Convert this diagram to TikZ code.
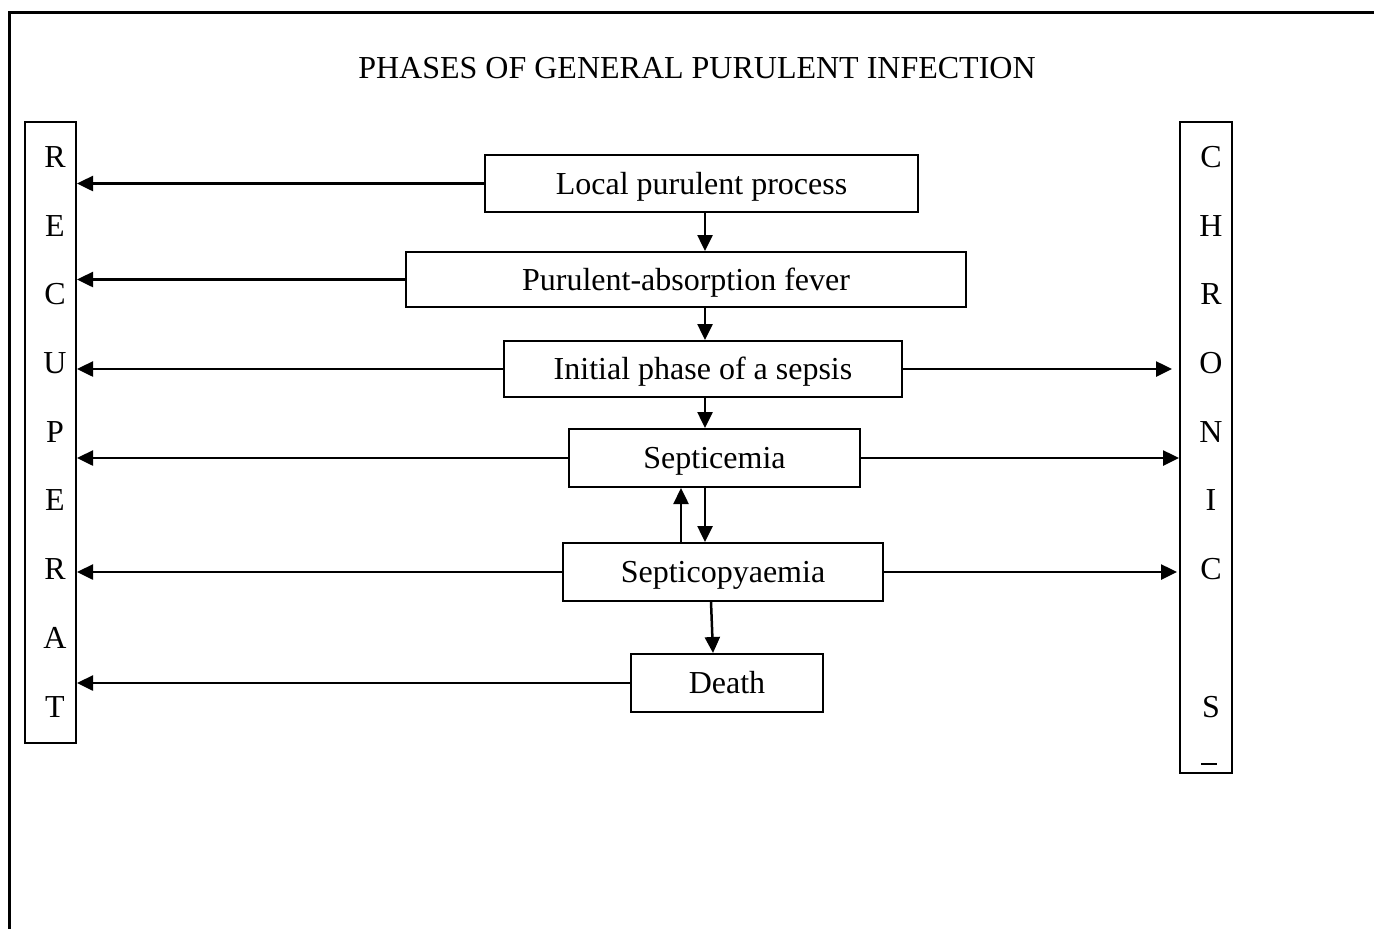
\documentclass[tikz,border=0pt]{standalone}
\usepackage{fontspec}
\setmainfont{Liberation Serif}
\usetikzlibrary{arrows.meta,positioning,calc}

\begin{document}
\begin{tikzpicture}[
  x=0.5pt, y=-0.5pt,
  phase/.style={draw, line width=1pt, inner sep=0pt, align=center, font=\fontsize{16}{19}\selectfont, text height=10.6pt, text depth=0pt},
  bar/.style={draw, line width=1pt, inner sep=0pt},
  letter/.style={inner sep=0pt, font=\fontsize{16}{19}\selectfont},
  arr/.style={-{Triangle[length=8pt, width=7.5pt]}, line width=1.25pt}
]
  \clip (0,0) rectangle (1374,928);
  % outer frame (runs off the page to the right and below)
  \draw[line width=1.5pt] (9.5,940) -- (9.5,12) -- (1390,12);

  \node[font=\fontsize{16}{19}\selectfont] (title) at (697,68) {PHASES OF GENERAL PURULENT INFECTION};

  % side bars
  \node[bar, minimum width=25.5pt, minimum height=310.5pt] (recup) at (50.5,432.5) {};
  \node[bar, minimum width=26pt, minimum height=325.5pt] (chron) at (1206,447.5) {};
  \foreach \ch [count=\i] in {R,E,C,U,P,E,R,A,T}
    \node[letter] (rl\i) at (55,{157+68.7*(\i-1)}) {\ch};
  \foreach \ch/\k in {C/0,H/1,R/2,O/3,N/4,I/5,C/6,S/8}
    \node[letter] (cl\k) at (1211,{157+68.7*\k}) {\ch};
  \draw[line width=1.2pt] (1201,764) -- (1217,764); % cut-off glyph

  % phases
  \node[phase, minimum width=216.5pt, minimum height=28.5pt] (local) at (701.5,183.5) {Local purulent process};
  \node[phase, minimum width=280pt, minimum height=27.5pt] (absorp) at (686,279.5) {Purulent-absorption fever};
  \node[phase, minimum width=199pt, minimum height=28pt] (initial) at (703,369) {Initial phase of a sepsis};
  \node[phase, minimum width=145.5pt, minimum height=29pt] (septic) at (714.5,458) {Septicemia};
  \node[phase, minimum width=160pt, minimum height=29pt] (pyaemia) at (723,572) {Septicopyaemia};
  \node[phase, minimum width=96pt, minimum height=29pt] (death) at (727,683) {Death};

  \coordinate (spine) at (705,0);
  \coordinate (back) at (681,0);

  % down the chain
  \draw[arr] (local.south -| spine) -- (absorp.north -| spine);
  \draw[arr] (absorp.south -| spine) -- (initial.north -| spine);
  \draw[arr] (initial.south -| spine) -- (septic.north -| spine);
  \draw[arr] (septic.south -| spine) -- (pyaemia.north -| spine);
  \draw[arr] (pyaemia.north -| back) -- (septic.south -| back);
  \draw[arr] ([xshift=3pt]pyaemia.south -| spine) -- ([xshift=4pt]death.north -| spine);

  % to recuperation
  \foreach \p in {local,absorp,initial,septic,pyaemia,death}
    \draw[arr] (\p.west) -- (\p.west -| recup.east);

  % to chronic sepsis
  \draw[arr] (initial.east) -- ([xshift=-3.5pt]initial.east -| chron.west);
  \draw[arr] (septic.east) -- (septic.east -| chron.west);
  \draw[arr] (pyaemia.east) -- ([xshift=-1pt]pyaemia.east -| chron.west);
\end{tikzpicture}
\end{document}
